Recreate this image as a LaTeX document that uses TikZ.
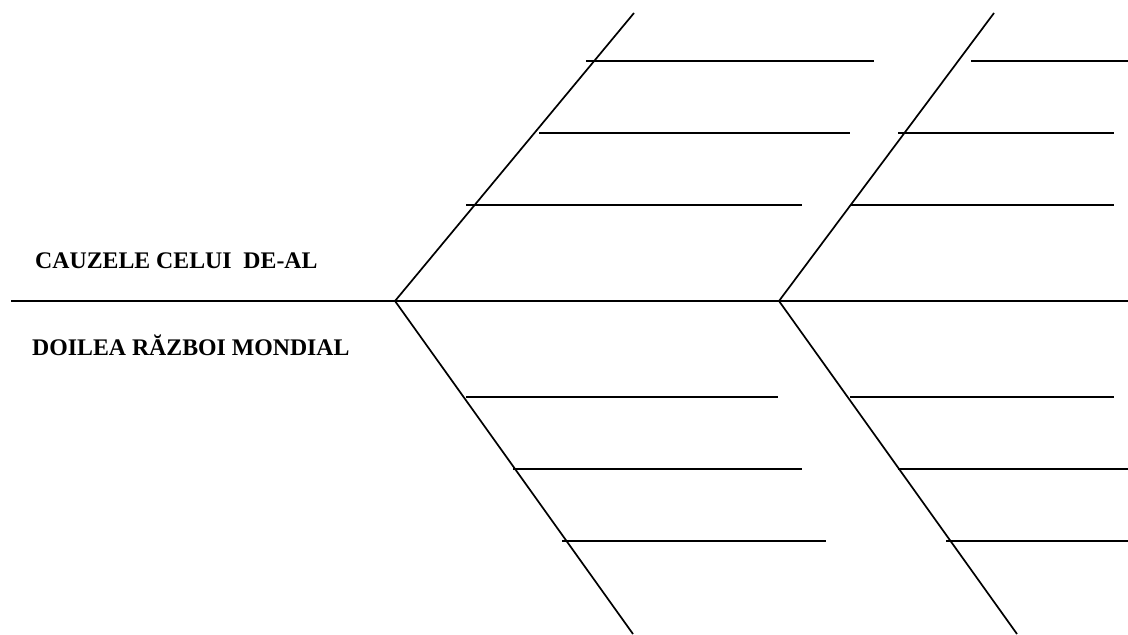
\documentclass[tikz,border=0pt]{standalone}
\usepackage{fontspec}
\setmainfont{Liberation Serif}
\usepackage{tikz}
\usetikzlibrary{positioning}

\begin{document}
\begin{tikzpicture}[
    x=1pt, y=-1pt,
    bone/.style={line width=1.7pt},
    rib/.style={line width=1.6pt},
    title/.style={
        anchor=base west,
        inner sep=0pt,
        font=\fontsize{23.8}{27}\selectfont\bfseries
    }
]
\useasboundingbox (0,0) rectangle (1128,635);

\node[title] (causes) at (35,268) {CAUZELE CELUI\ \ DE-AL};
\node[title] (war) at (32,355) {DOILEA RĂZBOI MONDIAL};

\coordinate (tail) at (11,301);
\coordinate (head) at (1128,301);
\coordinate (forkA) at (395,301);
\coordinate (forkB) at (779,301);
\coordinate (topA) at (634,13);
\coordinate (botA) at (633,634);
\coordinate (topB) at (994,13);
\coordinate (botB) at (1017,634);

\draw[bone] (tail) -- (head);
\draw[bone] (topA) -- (forkA) -- (botA);
\draw[bone] (topB) -- (forkB) -- (botB);

\foreach \y/\xa/\xb in {61/586/874, 133/539/850, 205/466/802,
                        397/466/778, 469/513/802, 541/562/826}
    \draw[rib] (\xa,\y) -- (\xb,\y);

\foreach \y/\xa/\xb in {61/971/1128, 133/898/1114, 205/850/1114,
                        397/850/1114, 469/898/1128, 541/946/1128}
    \draw[rib] (\xa,\y) -- (\xb,\y);

\end{tikzpicture}
\end{document}
